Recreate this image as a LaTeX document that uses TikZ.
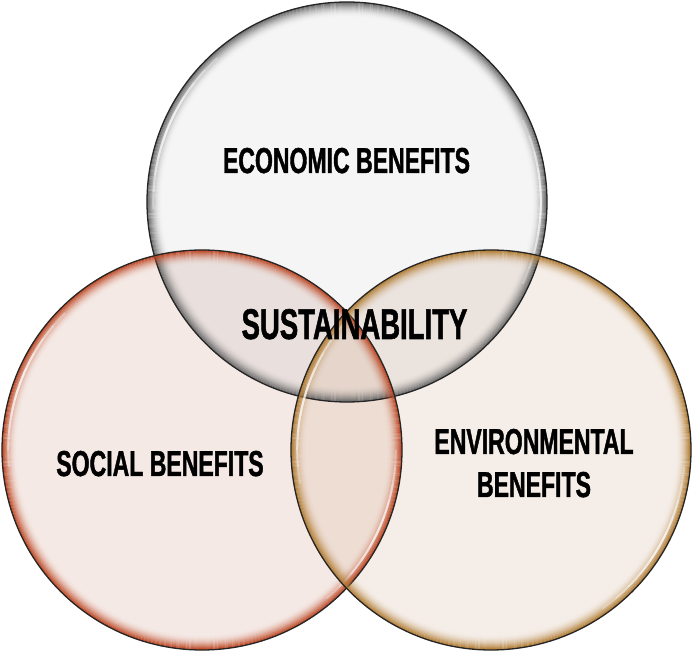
\documentclass[tikz,border=0pt]{standalone}
\usepackage{fontspec}
\newfontfamily\dinfont{Liberation Sans}[FakeStretch=0.64, FakeBold=1.2]
\definecolor{topfill}{HTML}{F5F5F5}
\definecolor{leftfill}{HTML}{F5E9E5}
\definecolor{rightfill}{HTML}{F5EEE8}
\definecolor{tlfill}{HTML}{E9E0DD}
\definecolor{trfill}{HTML}{EBE3DE}
\definecolor{lrfill}{HTML}{EEDDD3}
\definecolor{allfill}{HTML}{E5D5CB}
\definecolor{toprim}{HTML}{6A6A6A}
\definecolor{leftrim}{HTML}{BC4420}
\definecolor{rightrim}{HTML}{B07A30}
\newcommand{\glassrim}[4]{%
  \foreach \i [evaluate=\i as \op using {(1-\i/15)^2.2}] in {0,...,14}
    \draw[#2, line width=1.1pt, draw opacity=\op] (#1) circle ({199.5-\i});
  \foreach \h in {5,10,15,20,25}{
    \draw[white, line width=2pt, draw opacity=0.27] (#1) ++({#3-\h}:193.8)
      arc[start angle={#3-\h}, end angle={#3+\h}, radius=193.8];
    \draw[white, line width=2pt, draw opacity=0.25] (#1) ++({#4-\h}:193.8)
      arc[start angle={#4-\h}, end angle={#4+\h}, radius=193.8];
  }
  \draw[black!85, line width=1.3pt] (#1) circle (200);
}
\tikzset{
  label text/.style={inner sep=0pt, anchor=base, align=center, text=black,
    font=\dinfont\bfseries\fontsize{36}{43}\selectfont},
}
\begin{document}
\begin{tikzpicture}[x=1pt, y=1pt]
\useasboundingbox (0,0) rectangle (693,653);
\coordinate (T) at (347,451);
\coordinate (L) at (202,203);
\coordinate (R) at (491,203);
% base fills
\fill[topfill] (T) circle (200);
\fill[leftfill] (L) circle (200);
\fill[rightfill] (R) circle (200);
\begin{scope}
  \clip (T) circle (200);
  \fill[tlfill] (L) circle (200);
  \fill[trfill] (R) circle (200);
\end{scope}
\begin{scope}
  \clip (L) circle (200);
  \fill[lrfill] (R) circle (200);
\end{scope}
\begin{scope}
  \clip (T) circle (200);
  \clip (L) circle (200);
  \fill[allfill] (R) circle (200);
\end{scope}
% glassy rims
\glassrim{T}{toprim}{157}{0}
\glassrim{L}{leftrim}{160}{-25}
\glassrim{R}{rightrim}{165}{-30}
% texts
\node[label text] (eco) at (346.5,480) {ECONOMIC BENEFITS};
\node[label text] (soc) at (160,177) {SOCIAL BENEFITS};
\node[label text] (env) at (534,156) {ENVIRONMENTAL\\BENEFITS};
\node[label text, font=\dinfont\bfseries\fontsize{43}{50}\selectfont] (sus) at (354.5,314) {SUSTAINABILITY};
\end{tikzpicture}
\end{document}
